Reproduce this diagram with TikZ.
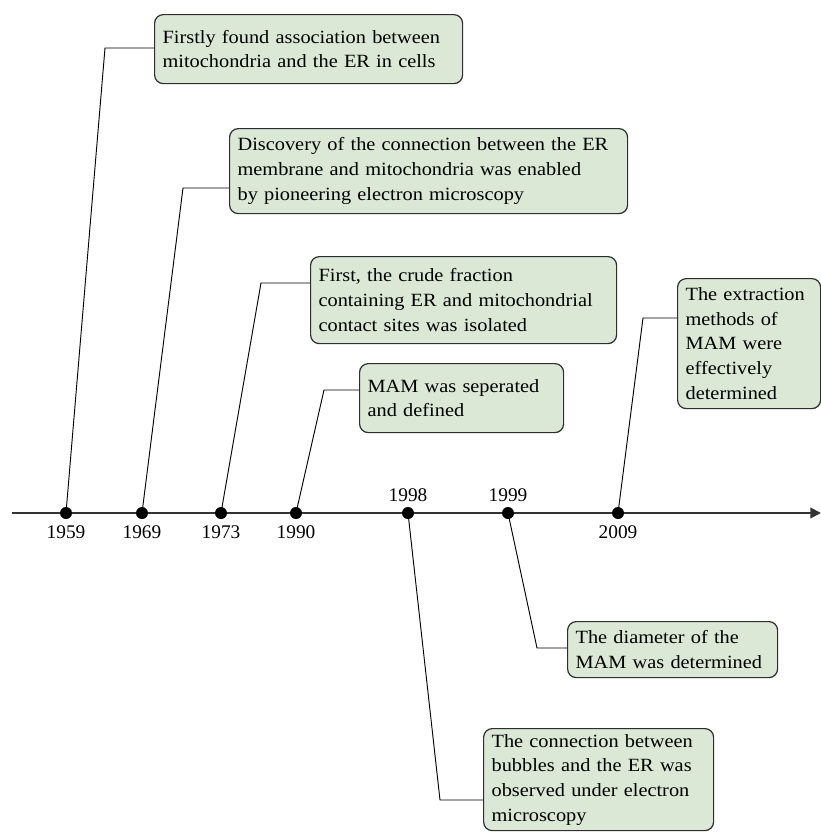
\documentclass[tikz,border=0pt]{standalone}
\usepackage{fontspec}
\setmainfont{Liberation Serif}
\newfontfamily\boxfont[FakeStretch=1.09]{Liberation Serif}
\usetikzlibrary{arrows.meta}
\definecolor{boxfill}{HTML}{DAE8D5}
\definecolor{boxline}{HTML}{2E2E2E}
\definecolor{axisgray}{HTML}{333333}
\begin{document}
\begin{tikzpicture}[x=0.75pt,y=-0.75pt,
  evbox/.style 2 args={draw=boxline, fill=boxfill, rounded corners=6.5pt, line width=0.9pt,
    anchor=north west, align=left, inner xsep=6pt, inner ysep=0pt,
    text width=#1, minimum height=#2, font=\boxfont\fontsize{14}{18.5}\selectfont},
  dot/.style={circle, fill=black, inner sep=0pt, minimum size=9pt},
  conn/.style={draw=black, line width=0.7pt},
  yearlab/.style={font=\fontsize{14.5}{17}\selectfont, inner sep=0pt},
  axisline/.style={draw=axisgray, line width=1.5pt, -{Triangle[length=8pt,width=8pt]}}]
\useasboundingbox (0,0) rectangle (821,833);
\clip (0,0) rectangle (821,833);

% event boxes
\node[evbox={219pt}{51.75pt}] (b1) at (154,14) {Firstly found association between\\mitochondria and the ER in cells};
\node[evbox={286.5pt}{63.75pt}] (b2) at (229,128) {Discovery of the connection between the ER\\membrane and mitochondria was enabled\\by pioneering electron microscopy};
\node[evbox={217.5pt}{65.25pt}] (b3) at (310,256) {First, the crude fraction\\containing ER and mitochondrial\\contact sites was isolated};
\node[evbox={141pt}{51.75pt}] (b4) at (359,363) {MAM was seperated\\and defined};
\node[evbox={95.25pt}{97.5pt}] (b5) at (677,278) {The extraction\\methods of\\MAM were\\effectively\\determined};
\node[evbox={145.5pt}{42pt}] (b6) at (567,621) {The diameter of the\\MAM was determined};
\node[evbox={160.5pt}{76.5pt}] (b7) at (483,728) {The connection between\\bubbles and the ER was\\observed under electron\\microscopy};

% axis
\coordinate (axs) at (12,513);
\coordinate (axe) at (821,513);
\draw[axisline] (axs) -- (axe);

% dots
\node[dot] (d1959) at (66,513) {};
\node[dot] (d1969) at (142,513) {};
\node[dot] (d1973) at (221,513) {};
\node[dot] (d1990) at (296,513) {};
\node[dot] (d1998) at (408,513) {};
\node[dot] (d1999) at (508,513) {};
\node[dot] (d2009) at (618,513) {};

% year labels
\node[yearlab] (y1959) at (66,532) {1959};
\node[yearlab] (y1969) at (142,532) {1969};
\node[yearlab] (y1973) at (221,532) {1973};
\node[yearlab] (y1990) at (296,532) {1990};
\node[yearlab] (y1998) at (408,495) {1998};
\node[yearlab] (y1999) at (508,495) {1999};
\node[yearlab] (y2009) at (618,532) {2009};

% elbows
\coordinate (e1) at (105,48);
\coordinate (e2) at (183,188);
\coordinate (e3) at (261,283);
\coordinate (e4) at (324,390);
\coordinate (e5) at (643,318);
\coordinate (e6) at (537,648);
\coordinate (e7) at (440,800);

% connectors
\draw[conn] (d1959.center) -- (e1) -- (e1 -| b1.west);
\draw[conn] (d1969.center) -- (e2) -- (e2 -| b2.west);
\draw[conn] (d1973.center) -- (e3) -- (e3 -| b3.west);
\draw[conn] (d1990.center) -- (e4) -- (e4 -| b4.west);
\draw[conn] (d2009.center) -- (e5) -- (e5 -| b5.west);
\draw[conn] (d1999.center) -- (e6) -- (e6 -| b6.west);
\draw[conn] (d1998.center) -- (e7) -- (e7 -| b7.west);
\end{tikzpicture}
\end{document}
